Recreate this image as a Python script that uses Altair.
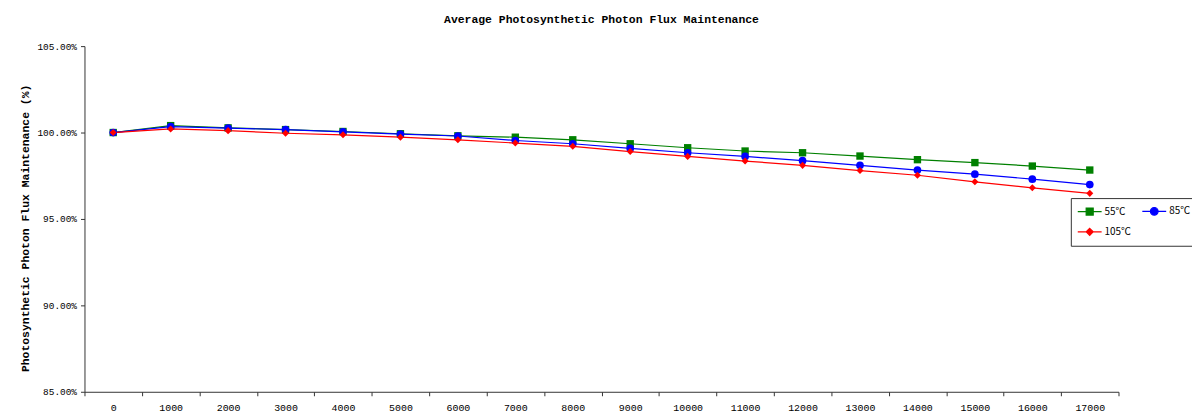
import altair as alt
import pandas as pd

hours = ["0", "1000", "2000", "3000", "4000", "5000", "6000", "7000", "8000",
         "9000", "10000", "11000", "12000", "13000", "14000", "15000", "16000", "17000"]
series_names = ["55℃", "85℃", "105℃"]
s55 = [100.00, 100.40, 100.27, 100.17, 100.06, 99.93, 99.81, 99.73, 99.58,
       99.35, 99.12, 98.93, 98.83, 98.64, 98.43, 98.26, 98.06, 97.83]
s85 = [100.00, 100.34, 100.26, 100.17, 100.04, 99.91, 99.80, 99.54, 99.35,
       99.08, 98.83, 98.62, 98.37, 98.10, 97.83, 97.59, 97.30, 96.99]
s105 = [100.00, 100.21, 100.11, 99.96, 99.87, 99.73, 99.58, 99.39, 99.20,
        98.90, 98.62, 98.35, 98.10, 97.80, 97.53, 97.15, 96.80, 96.48]
colors = ["#008000", "#0000ff", "#ff0000"]
shapes = ["square", "circle", "diamond"]

rows = []
for name, vals in zip(series_names, [s55, s85, s105]):
    for h, v in zip(hours, vals):
        rows.append({"hours": h, "value": v, "series": name})
df = pd.DataFrame(rows)

MONO = "Liberation Mono"

x_enc = alt.X("hours:N", sort=hours,
              scale=alt.Scale(paddingInner=0, paddingOuter=0),
              axis=alt.Axis(title=None, labelAngle=0, tickBand="extent",
                            labelFont=MONO, labelFontSize=10, labelColor="#000",
                            domainColor="#333", tickColor="#333", tickSize=4,
                            labelPadding=7, grid=False))
y_enc = alt.Y("value:Q",
              scale=alt.Scale(domain=[85, 105], nice=False, zero=False),
              axis=alt.Axis(values=[85, 90, 95, 100, 105],
                            labelExpr="format(datum.value, '.2f') + '%'",
                            title="Photosynthetic Photon Flux Maintenance  (%)",
                            titleFont=MONO, titleFontSize=11.5, titleFontWeight="bold",
                            titleColor="#000", titleAngle=-90, titleX=-59, titleY=183,
                            titleAlign="center", titleBaseline="middle",
                            labelFont=MONO, labelFontSize=9.5, labelColor="#000",
                            domainColor="#333", tickColor="#333", tickSize=4,
                            labelPadding=4, grid=False))

color_scale = alt.Scale(domain=series_names, range=colors)

base = alt.Chart(df)

layers = []
for name, col in zip(series_names, colors):
    sub = base.transform_filter(alt.datum.series == name)
    layers.append(sub.mark_line(strokeWidth=1.2, color=col).encode(x=x_enc, y=y_enc))
for name, col, shp, sz in zip(series_names, colors, shapes, [55, 60, 50]):
    sub = base.transform_filter(alt.datum.series == name)
    layers.append(sub.mark_point(shape=shp, filled=True, size=sz, color=col, opacity=1)
                  .encode(x=x_enc, y=y_enc))

# legend-only layer (filter keeps no rows; legend entries come from the scale domain)
legend_paths = [
    "M-3.4,0H3.4M-1,-1H1V1H-1Z",
    "M-3.4,0H3.4M1.1,0A1.1,1.1,0,1,1,-1.1,0A1.1,1.1,0,1,1,1.1,0Z",
    "M-3.4,0H3.4M0,-1L1,0L0,1L-1,0Z",
]
leg = alt.Legend(title=None, orient="none", legendX=993, legendY=153,
                 columns=2, direction="horizontal", symbolSize=50, symbolStrokeWidth=1.2,
                 symbolOpacity=1, symbolOffset=6, labelOffset=10,
                 labelFont="Noto Sans CJK SC", labelFontSize=10, labelColor="#000",
                 strokeColor="#333", fillColor="#ffffff", padding=8,
                 rowPadding=8, columnPadding=8)
legend_layer = base.transform_filter(alt.datum.value < 0).mark_point(strokeWidth=1.2, size=50).encode(
    x=x_enc, y=y_enc,
    fill=alt.Fill("series:N", scale=color_scale, legend=leg),
    stroke=alt.Stroke("series:N", scale=color_scale, legend=leg),
    shape=alt.Shape("series:N", scale=alt.Scale(domain=series_names, range=legend_paths), legend=leg),
)
layers.append(legend_layer)

chart = alt.layer(*layers).properties(
    width=1041, height=348,
    title=alt.TitleParams("Average Photosynthetic Photon Flux Maintenance",
                          font=MONO, fontSize=11.5, fontWeight="bold", color="#000",
                          anchor="middle", offset=16),
    autosize=alt.AutoSizeParams(type="none"),
    padding={"left": 77, "top": 37, "right": 74, "bottom": 22},
).configure_view(stroke=None)

chart.save("out.html", embed_options={"renderer": "svg", "actions": False})
